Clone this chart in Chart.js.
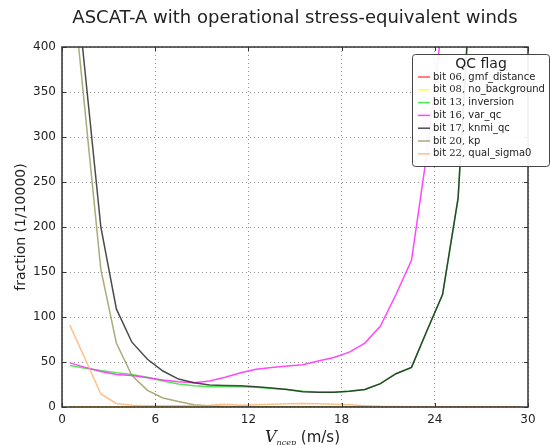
<!DOCTYPE html>
<html>
<head>
<meta charset="utf-8">
<script src="https://cdn.jsdelivr.net/npm/chart.js@4.4.1/dist/chart.umd.min.js"></script>
<style>
    html, body { margin: 0; padding: 0; background: #ffffff; }
</style>
</head>
<body>
<canvas id="qcChart" width="550" height="445"></canvas>
<script>
// ==============================
// QC flag fractions vs wind speed
// ==============================

// bin centres of the wind speed histogram (m/s)
const windBins = [
    0.5, 1.5, 2.5, 3.5, 4.5, 5.5, 6.5, 7.5, 8.5, 9.5,
    10.5, 11.5, 12.5, 13.5, 14.5, 15.5, 16.5, 17.5, 18.5, 19.5,
    20.5, 21.5, 22.5, 23.5, 24.5, 25.5, 26.5, 27.5, 28.5, 29.5
];

// fraction of rejected cells per flag (1/10000)
const gmfDistance = [
    0, 0, 0, 0, 0, 0, 0, 0, 0, 0,
    0, 0, 0, 0, 0, 0, 0, 0, 0, 0,
    0, 0, 0, 0, 0, 0, 0, 0, 0, 0
];
const noBackground = [
    0, 0, 0, 0, 0, 0, 0, 0, 0, 0,
    0, 0, 0, 0, 0, 0, 0, 0, 0, 0,
    0, 0, 0, 0, 0, 0, 0, 0, 0, 0
];
const inversion = [
    46, 43, 40.5, 38, 36, 33, 29, 25.5, 23.5, 22.5,
    22.5, 22.5, 22, 20.5, 19.5, 17.5, 16.5, 16.5, 17.5, 19.5,
    26, 37, 44, 85, 125, 232, 530, 900, 1200, 1500
];
const varQc = [
    49, 44, 39.5, 36, 35, 32.5, 30, 28, 27, 29,
    33, 38, 42, 44, 45.5, 47, 51, 55, 61, 71,
    90, 125, 163, 283, 430, 700, 1000, 1300, 1600, 1900
];
const knmiQc = [
    540, 370, 200, 109, 72, 53, 40, 31, 27, 24.5,
    24, 23.5, 22.5, 21, 19.5, 17, 16.5, 16.5, 17.5, 19.5,
    26, 37, 44, 85, 125, 232, 530, 900, 1200, 1500
];
const kp = [
    500, 326, 153, 71, 35, 18.5, 10, 6, 2.5, 1,
    0.5, 0.5, 0.3, 0.3, 0.2, 0.2, 0.2, 0.2, 0.2, 0.2,
    0.2, 0.2, 0.2, 0.2, 0.2, 0.2, 0.2, 0.2, 0.2, 0.2
];
const qualSigma0 = [
    91, 53, 14.5, 4, 2, 1.5, 1.5, 1.5, 1.5, 2,
    3, 2, 2.5, 3, 3.5, 4, 3.5, 3, 2.5, 1.5,
    0.8, 0.5, 0.3, 0.2, 0.2, 0.1, 0.1, 0.1, 0.1, 0.1
];

const flagBits = ["06", "08", "13", "16", "17", "20", "22"];
const flagNames = ["gmf_distance", "no_background", "inversion", "var_qc", "knmi_qc", "kp", "qual_sigma0"];
const flagSeries = [gmfDistance, noBackground, inversion, varQc, knmiQc, kp, qualSigma0];
const flagColors = [
    "rgba(255, 40, 40, 0.8)",
    "rgba(255, 255, 40, 0.8)",
    "rgba(40, 230, 40, 0.8)",
    "rgba(255, 40, 255, 0.85)",
    "rgba(30, 30, 30, 0.8)",
    "rgba(150, 150, 90, 0.8)",
    "rgba(255, 175, 110, 0.8)"
];

const xTicks = [0, 6, 12, 18, 24, 30];
const yTicks = [0, 50, 100, 150, 200, 250, 300, 350, 400];

const SANS = '"DejaVu Sans", sans-serif';
const SERIF = '"DejaVu Serif", serif';


// ==============================
// Frame, inward ticks, title, axis label, legend
// ==============================
const decorations = {
    id: "decorations",
    afterDraw(chart) {
        const ctx = chart.ctx;
        const a = chart.chartArea;
        const xs = chart.scales.x;
        const ys = chart.scales.y;

        ctx.save();

        // frame
        ctx.strokeStyle = "#333";
        ctx.lineWidth = 1.5;
        ctx.strokeRect(a.left, a.top, a.right - a.left, a.bottom - a.top);

        // ticks pointing inwards on every side
        ctx.lineWidth = 1;
        ctx.beginPath();
        xTicks.forEach(v => {
            const px = Math.round(xs.getPixelForValue(v)) + 0.5;
            ctx.moveTo(px, a.bottom); ctx.lineTo(px, a.bottom - 4);
            ctx.moveTo(px, a.top); ctx.lineTo(px, a.top + 4);
        });
        yTicks.forEach(v => {
            const py = Math.round(ys.getPixelForValue(v)) + 0.5;
            ctx.moveTo(a.left, py); ctx.lineTo(a.left + 4, py);
            ctx.moveTo(a.right, py); ctx.lineTo(a.right - 4, py);
        });
        ctx.stroke();

        // title
        ctx.fillStyle = "#222";
        ctx.textAlign = "center";
        ctx.textBaseline = "middle";
        ctx.font = "18px " + SANS;
        ctx.fillText("ASCAT-A with operational stress-equivalent winds", (a.left + a.right) / 2, 18);

        // x axis label: V_ncep (m/s)
        ctx.textAlign = "left";
        ctx.textBaseline = "alphabetic";
        let cx = 265;
        ctx.font = "italic 16px " + SERIF;
        ctx.fillText("V", cx, 442);
        cx += ctx.measureText("V").width;
        ctx.font = "italic 8px " + SERIF;
        ctx.fillText("ncep", cx, 445);
        cx += ctx.measureText("ncep").width;
        ctx.font = "15px " + SANS;
        ctx.fillText(" (m/s)", cx, 442);

        // legend
        const box = { x: 412.5, y: 54.5, w: 137, h: 112 };
        ctx.fillStyle = "rgba(255, 255, 255, 0.92)";
        ctx.strokeStyle = "#444";
        ctx.lineWidth = 1;
        ctx.beginPath();
        ctx.roundRect(box.x, box.y, box.w, box.h, 3);
        ctx.fill();
        ctx.stroke();

        ctx.fillStyle = "#222";
        ctx.textAlign = "center";
        ctx.textBaseline = "middle";
        ctx.font = "14px " + SANS;
        ctx.fillText("QC flag", 481, 64);

        ctx.textAlign = "left";
        chart.data.datasets.forEach((ds, i) => {
            const rowY = 77 + i * 12.8;
            ctx.strokeStyle = ds.borderColor;
            ctx.lineWidth = 1.5;
            ctx.beginPath();
            ctx.moveTo(418, rowY);
            ctx.lineTo(430, rowY);
            ctx.stroke();

            ctx.fillStyle = "#222";
            let tx = 433;
            ctx.font = "10px " + SANS;
            ctx.fillText("bit ", tx, rowY);
            tx += ctx.measureText("bit ").width;
            ctx.font = "10px " + SERIF;
            ctx.fillText(flagBits[i] + ",", tx, rowY);
            tx += ctx.measureText(flagBits[i] + ",").width;
            ctx.font = "10px " + SANS;
            ctx.fillText(" " + flagNames[i], tx, rowY);
        });

        ctx.restore();
    }
};


// ==============================
// Line chart
// ==============================
function renderQcChart() {
    const chartCanvas = document.getElementById("qcChart");

    const datasets = flagSeries.map((series, i) => ({
        label: "bit " + flagBits[i] + ", " + flagNames[i],
        data: windBins.map((w, k) => ({ x: w, y: series[k] })),
        borderColor: flagColors[i],
        borderWidth: 1.5,
        pointRadius: 0,
        tension: 0,
        fill: false,
        order: flagSeries.length - i
    }));

    new Chart(chartCanvas, {
        type: "line",
        data: { datasets: datasets },
        options: {
            responsive: false,
            animation: false,
            devicePixelRatio: 1,
            layout: {
                padding: { top: 47, right: 22, left: 0, bottom: 0 }
            },
            plugins: {
                legend: { display: false },
                title: { display: false },
                tooltip: { enabled: false }
            },
            scales: {
                x: {
                    type: "linear",
                    min: 0,
                    max: 30,
                    afterBuildTicks: scale => {
                        scale.ticks = xTicks.map(v => ({ value: v }));
                    },
                    afterFit: scale => { scale.height = 38; },
                    grid: {
                        color: "rgba(120, 120, 120, 0.8)",
                        lineWidth: 1,
                        drawTicks: false
                    },
                    border: { display: false, dash: [1, 3] },
                    ticks: {
                        padding: 6,
                        color: "#222",
                        font: { family: SANS, size: 12 },
                        maxRotation: 0
                    }
                },
                y: {
                    min: 0,
                    max: 400,
                    afterBuildTicks: scale => {
                        scale.ticks = yTicks.map(v => ({ value: v }));
                    },
                    afterFit: scale => { scale.width = 62; },
                    grid: {
                        color: "rgba(120, 120, 120, 0.8)",
                        lineWidth: 1,
                        drawTicks: false
                    },
                    border: { display: false, dash: [1, 3] },
                    ticks: {
                        padding: 6,
                        color: "#222",
                        font: { family: SANS, size: 12 }
                    },
                    title: {
                        display: true,
                        text: "fraction (1/10000)",
                        color: "#222",
                        font: { family: SANS, size: 14 },
                        padding: { top: 13, bottom: 0 }
                    }
                }
            }
        },
        plugins: [decorations]
    });
}

renderQcChart();
</script>
</body>
</html>
